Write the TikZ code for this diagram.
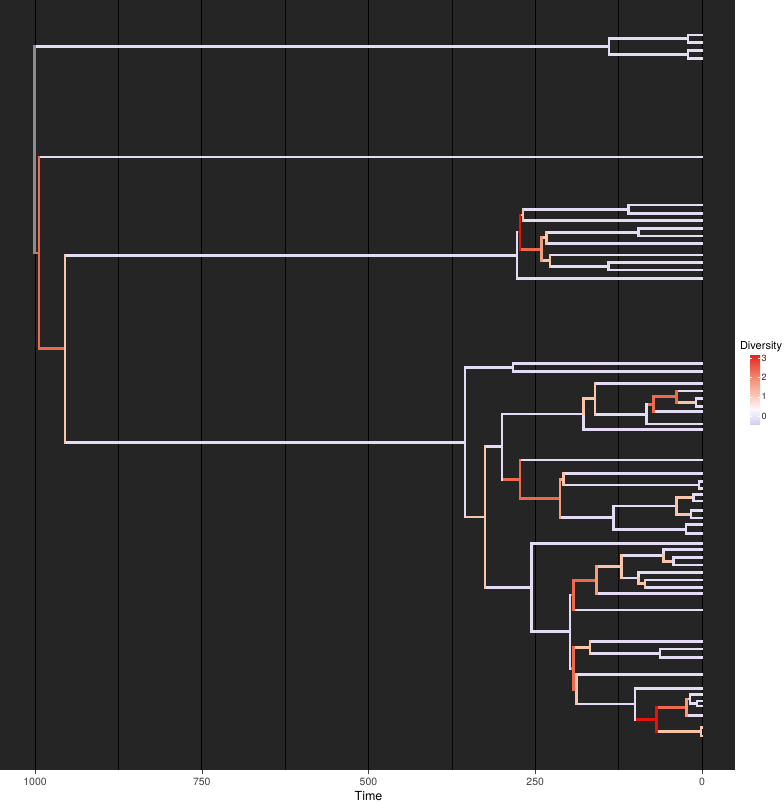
\documentclass[tikz,border=0pt]{standalone}
\usepackage{fontspec}
\setmainfont{TeX Gyre Heros}
\usepackage{xcolor}
\usepackage{tikz}

\definecolor{panelbg}{HTML}{252525}
\definecolor{divlav}{HTML}{E4DCF5}
\definecolor{divpeach}{HTML}{F8C5AA}
\definecolor{divmid}{HTML}{F49C7E}
\definecolor{divsalm}{HTML}{EE6A4D}
\definecolor{divred}{HTML}{E3140C}
\definecolor{divgrey}{HTML}{8C8C8C}
\definecolor{barA}{HTML}{E52A1F}
\definecolor{barB}{HTML}{F08B72}
\definecolor{barC}{HTML}{F9CDBF}
\definecolor{barD}{HTML}{FDF8FA}
\definecolor{barE}{HTML}{D6CEF2}

\begin{document}
\begin{tikzpicture}[x=1pt, y=-1pt,
  br/.style={line width=2.8pt, line cap=rect},
  lav/.style={br, draw=divlav},
  pch/.style={br, draw=divpeach},
  mid/.style={br, draw=divmid},
  slm/.style={br, draw=divsalm},
  rd/.style={br, draw=divred},
  gry/.style={br, draw=divgrey},
  major/.style={draw=black, line width=0.75pt},
  minor/.style={draw=black!85!panelbg, line width=0.45pt},
  axtick/.style={draw=black!75, line width=0.6pt},
  ticklab/.style={font=\fontsize{10.5}{12}\selectfont, text=black!75},
  leglab/.style={font=\fontsize{9}{10}\selectfont, text=black!85, anchor=west, inner sep=0pt}]
  \useasboundingbox (0,0) rectangle (784,804);
  % Panel and grid
  \fill[panelbg] (0,0) rectangle (735,770);
  \draw[minor] (118.5,0) -- (118.5,770) (285.2,0) -- (285.2,770)
    (451.8,0) -- (451.8,770) (618.5,0) -- (618.5,770);
  \draw[major] (35,0) -- (35,770) (201.8,0) -- (201.8,770) (368.5,0) -- (368.5,770)
    (535.2,0) -- (535.2,770) (702,0) -- (702,770);

  % Root, top clade and backbone
  \coordinate (R) at (34.5,149.8);
  \coordinate (T) at (609,46.6);    \coordinate (T1) at (688,38.75);  \coordinate (T2) at (688,54.5);
  \coordinate (a1) at (702,35);     \coordinate (a2) at (702,42.5);
  \coordinate (a3) at (702,50.5);   \coordinate (a4) at (702,58.5);
  \coordinate (B) at (39,252.9);    \coordinate (b1) at (702,157);
  \coordinate (C) at (65,348.75);
  % Clade D
  \coordinate (D) at (517,255.2);   \coordinate (Dp) at (520,232.05);
  \coordinate (D1) at (523,214.9);  \coordinate (D1a) at (628.3,209.15);
  \coordinate (D2) at (541.7,249.2);
  \coordinate (D2a) at (546.7,237.7); \coordinate (D2c) at (638.3,232.15);
  \coordinate (D2b) at (550,260.7);   \coordinate (D2d) at (608.3,266.35);
  \coordinate (d1) at (702,205);    \coordinate (d2) at (702,213.3);
  \coordinate (d3) at (702,220.7);  \coordinate (d4) at (702,228.3);
  \coordinate (d5) at (702,236);    \coordinate (d6) at (702,243.3);
  \coordinate (d7) at (702,255);    \coordinate (d8) at (702,262.7);
  \coordinate (d9) at (702,270);    \coordinate (d10) at (702,278.3);
  % Clade E
  \coordinate (E) at (465,442.3);   \coordinate (E1) at (513,367.5);
  \coordinate (e1) at (702,363.3);  \coordinate (e2) at (702,371.7);
  \coordinate (F) at (485,517.05);  \coordinate (G) at (502,446.6);
  \coordinate (G1) at (583.3,414);  \coordinate (G1a) at (595,398.7);
  \coordinate (G1b) at (646.7,414.1); \coordinate (G1c) at (653.3,404.2);
  \coordinate (G1d) at (676.7,396.7); \coordinate (G1e) at (696,402.4);
  \coordinate (g1) at (702,383.3);  \coordinate (g2) at (702,391);
  \coordinate (g3) at (702,398.3);  \coordinate (g4) at (702,406.5);
  \coordinate (g5) at (702,411.7);  \coordinate (g6) at (702,424);
  \coordinate (g7) at (702,429.3);
  \coordinate (H) at (520,479.2);   \coordinate (H1) at (560,498.4);
  \coordinate (H1a) at (563.3,479.15); \coordinate (H1g) at (699,485);
  \coordinate (H1b) at (613.3,517.6); \coordinate (H1c) at (676.7,505.95);
  \coordinate (H1d) at (693.3,497.65); \coordinate (H1e) at (691,514.25);
  \coordinate (H1f) at (686,529.2);
  \coordinate (h1) at (702,460);    \coordinate (h2) at (702,473.3);
  \coordinate (h3) at (702,481.5);  \coordinate (h4) at (702,488.5);
  \coordinate (h5) at (702,494.3);  \coordinate (h6) at (702,501);
  \coordinate (h7) at (702,510.5);  \coordinate (h8) at (702,518);
  \coordinate (h9) at (702,524.8);  \coordinate (h10) at (702,533.6);
  \coordinate (K) at (531.7,587.5);   \coordinate (K1) at (570,631.7);
  \coordinate (K1a) at (573.3,595.05); \coordinate (K2) at (596.7,580.1);
  \coordinate (K2a) at (621.7,566.65); \coordinate (K2b) at (663.3,555.3);
  \coordinate (K2e) at (673.3,561.35); \coordinate (K2c) at (638.3,578);
  \coordinate (K2d) at (645,583.75);
  \coordinate (K1b) at (573.3,668.3); \coordinate (K3) at (590,647.5);
  \coordinate (K3a) at (660,653.35);  \coordinate (K4) at (576.7,689.1);
  \coordinate (K5) at (635,703.9);    \coordinate (K7) at (656.7,719.5);
  \coordinate (K8) at (686.7,707.25); \coordinate (K8a) at (690,699);
  \coordinate (K8b) at (697,703.5);   \coordinate (K9) at (701,731.75);
  \coordinate (k1) at (702,543.3);  \coordinate (k2) at (702,549.3);
  \coordinate (k3) at (702,557.7);  \coordinate (k4) at (702,565);
  \coordinate (k5) at (702,572.3);  \coordinate (k6) at (702,580);
  \coordinate (k7) at (702,587.5);  \coordinate (k8) at (702,593.5);
  \coordinate (k9) at (702,610);    \coordinate (k10) at (702,641.7);
  \coordinate (k11) at (702,649);   \coordinate (k12) at (702,657.7);
  \coordinate (k13) at (702,674.3); \coordinate (k14) at (702,688.3);
  \coordinate (k15) at (702,694.5); \coordinate (k16) at (702,701);
  \coordinate (k17) at (702,706);   \coordinate (k18) at (702,715.5);
  \coordinate (k19) at (702,727.5); \coordinate (k20) at (702,736);

  % Branches: top clade and backbone
  \draw[lav] (R |- T) -- (T) (T |- T1) -- (T1) (T |- T2) -- (T2)
    (T1 |- a1) -- (a1) (T1 |- a2) -- (a2) (T2 |- a3) -- (a3) (T2 |- a4) -- (a4)
    (B |- b1) -- (b1);
  \draw[slm] (R |- B) -- (B) (B |- C) -- (C);
  \draw[gry] (R |- T) -- (R |- B);
  \draw[lav] (T |- T1) -- (T |- T2) (T1 |- a1) -- (T1 |- a2) (T2 |- a3) -- (T2 |- a4);
  \draw[slm] (B |- b1) -- (B |- C);

  % Branches: clade D
  \draw[lav] (C |- D) -- (D) (D |- d10) -- (d10)
    (D1 |- D1a) -- (D1a) (D1a |- d1) -- (d1) (D1a |- d2) -- (d2) (D1 |- d3) -- (d3)
    (D2a |- D2c) -- (D2c) (D2c |- d4) -- (d4) (D2c |- d5) -- (d5) (D2a |- d6) -- (d6)
    (D2b |- d7) -- (d7) (D2b |- D2d) -- (D2d) (D2d |- d8) -- (d8) (D2d |- d9) -- (d9);
  \draw[rd] (D |- Dp) -- (Dp);
  \draw[pch] (Dp |- D1) -- (D1) (D2 |- D2a) -- (D2a) (D2 |- D2b) -- (D2b);
  \draw[slm] (Dp |- D2) -- (D2);
  \draw[lav] (D |- Dp) -- (D |- d10) (D1a |- d1) -- (D1a |- d2)
    (D2c |- d4) -- (D2c |- d5) (D2d |- d8) -- (D2d |- d9);
  \draw[rd] (Dp |- D1) -- (Dp |- D2);
  \draw[pch] (D1 |- D1a) -- (D1 |- d3) (D2a |- D2c) -- (D2a |- d6) (D2b |- d7) -- (D2b |- D2d);
  \draw[mid] (D2 |- D2a) -- (D2 |- D2b);

  % Branches: clade E
  \draw[lav] (C |- E) -- (E) (E |- E1) -- (E1) (E1 |- e1) -- (e1) (E1 |- e2) -- (e2)
    (F |- G) -- (G) (F |- K) -- (K) (G |- G1) -- (G1) (G1 |- g7) -- (g7)
    (G1a |- g1) -- (g1) (G1a |- G1b) -- (G1b) (G1b |- g6) -- (g6) (G1c |- g5) -- (g5)
    (G1d |- g2) -- (g2) (G1e |- g3) -- (g3) (G1e |- g4) -- (g4)
    (H |- h1) -- (h1) (H1 |- H1b) -- (H1b) (H1a |- h2) -- (h2) (H1a |- H1g) -- (H1g)
    (H1g |- h3) -- (h3) (H1g |- h4) -- (h4) (H1b |- H1c) -- (H1c) (H1b |- H1f) -- (H1f)
    (H1d |- h5) -- (h5) (H1d |- h6) -- (h6) (H1e |- h7) -- (h7) (H1e |- h8) -- (h8)
    (H1f |- h9) -- (h9) (H1f |- h10) -- (h10);
  \draw[pch] (E |- F) -- (F) (G1 |- G1a) -- (G1a) (G1d |- G1e) -- (G1e)
    (H1 |- H1a) -- (H1a) (H1c |- H1d) -- (H1d) (H1c |- H1e) -- (H1e);
  \draw[slm] (G |- H) -- (H) (H |- H1) -- (H1) (G1b |- G1c) -- (G1c) (G1c |- G1d) -- (G1d);
  \draw[lav] (K |- k1) -- (k1) (K |- K1) -- (K1) (K1a |- k9) -- (k9) (K2 |- k8) -- (k8)
    (K2a |- K2b) -- (K2b) (K2a |- K2c) -- (K2c) (K2b |- k2) -- (k2)
    (K2e |- k3) -- (k3) (K2e |- k4) -- (k4) (K2c |- k5) -- (k5)
    (K2d |- k6) -- (k6) (K2d |- k7) -- (k7)
    (K3 |- k10) -- (k10) (K3 |- K3a) -- (K3a) (K3a |- k11) -- (k11) (K3a |- k12) -- (k12)
    (K4 |- k13) -- (k13) (K4 |- K5) -- (K5) (K5 |- k14) -- (k14)
    (K8a |- k15) -- (k15) (K8a |- K8b) -- (K8b) (K8b |- k16) -- (k16) (K8b |- k17) -- (k17)
    (K8 |- k18) -- (k18);
  \draw[pch] (K2 |- K2a) -- (K2a) (K2b |- K2e) -- (K2e) (K2c |- K2d) -- (K2d)
    (K1b |- K3) -- (K3) (K1b |- K4) -- (K4) (K7 |- K9) -- (K9) (K8 |- K8a) -- (K8a)
    (K9 |- k19) -- (k19) (K9 |- k20) -- (k20);
  \draw[slm] (K1 |- K1a) -- (K1a) (K1a |- K2) -- (K2) (K1 |- K1b) -- (K1b) (K7 |- K8) -- (K8);
  \draw[rd] (K5 |- K7) -- (K7);
  % node bars, clade E
  \draw[lav] (E |- E1) -- (E |- F) (E1 |- e1) -- (E1 |- e2) (G |- G1) -- (G |- H)
    (G1) -- (G1 |- g7) (G1b |- G1c) -- (G1b |- g6) (G1e |- g3) -- (G1e |- g4)
    (H1g |- h3) -- (H1g |- h4) (H1b |- H1c) -- (H1b |- H1f) (H1d |- h5) -- (H1d |- h6)
    (H1e |- h7) -- (H1e |- h8) (H1f |- h9) -- (H1f |- h10)
    (K |- k1) -- (K |- K1) (K1 |- K1a) -- (K1 |- K1b) (K2b |- k2) -- (K2b)
    (K2e |- k3) -- (K2e |- k4) (K2c |- k5) -- (K2c) (K3a |- k11) -- (K3a |- k12)
    (K5 |- k14) -- (K5 |- K7) (K8a |- k15) -- (K8a |- K8b) (K8b |- k16) -- (K8b |- k17);
  \draw[pch] (F |- G) -- (F |- K) (G1 |- G1a) -- (G1) (G1a |- g1) -- (G1a |- G1b)
    (H1a |- h2) -- (H1a |- H1g) (H1c |- H1d) -- (H1c |- H1e)
    (K2a |- K2b) -- (K2a |- K2c) (K2b) -- (K2b |- K2e) (K2c) -- (K2c |- K2d)
    (K2d |- k6) -- (K2d |- k7) (K3 |- k10) -- (K3 |- K3a) (K4 |- k13) -- (K4 |- K5)
    (K9 |- k19) -- (K9 |- k20);
  \draw[mid] (H1 |- H1a) -- (H1 |- H1b) (K2 |- K2a) -- (K2 |- k8) (K8 |- K8a) -- (K8 |- k18);
  \draw[slm] (H |- h1) -- (H |- H1) (G1c |- G1d) -- (G1c |- g5) (G1d |- g2) -- (G1d |- G1e)
    (K1a |- K2) -- (K1a |- k9) (K1b |- K3) -- (K1b |- K4);
  \draw[rd] (K7 |- K8) -- (K7 |- K9);
  \draw[pch] (C |- D) -- (C |- E);

  % x axis
  \draw[axtick] (35,770) -- (35,773.7) (201.8,770) -- (201.8,773.7) (368.5,770) -- (368.5,773.7)
    (535.2,770) -- (535.2,773.7) (702,770) -- (702,773.7);
  \node[ticklab] (x1000) at (35,781.5) {1000};
  \node[ticklab] (x750) at (201.8,781.5) {750};
  \node[ticklab] (x500) at (368.5,781.5) {500};
  \node[ticklab] (x250) at (535.2,781.5) {250};
  \node[ticklab] (x0) at (702,781.5) {0};
  \node[font=\fontsize{12.5}{14}\selectfont] (xtitle) at (368.5,796) {Time};

  % Legend
  \node[font=\fontsize{11}{13}\selectfont] (legtitle) at (761,346.5) {Diversity};
  \shade[top color=barA, bottom color=barB] (750,355.7) rectangle (760,377.9);
  \shade[top color=barB, bottom color=barC] (750,377.6) rectangle (760,397.1);
  \shade[top color=barC, bottom color=barD] (750,396.8) rectangle (760,409.3);
  \shade[top color=barD, bottom color=barE] (750,409) rectangle (760,424.3);
  \draw[white, line width=0.5pt] (750,358.4) -- (752,358.4) (758,358.4) -- (760,358.4)
    (750,377.6) -- (752,377.6) (758,377.6) -- (760,377.6)
    (750,396.8) -- (752,396.8) (758,396.8) -- (760,396.8)
    (750,416) -- (752,416) (758,416) -- (760,416);
  \node[leglab] (lg3) at (761.5,358.4) {3};
  \node[leglab] (lg2) at (761.5,377.6) {2};
  \node[leglab] (lg1) at (761.5,396.8) {1};
  \node[leglab] (lg0) at (761.5,416) {0};
\end{tikzpicture}
\end{document}
